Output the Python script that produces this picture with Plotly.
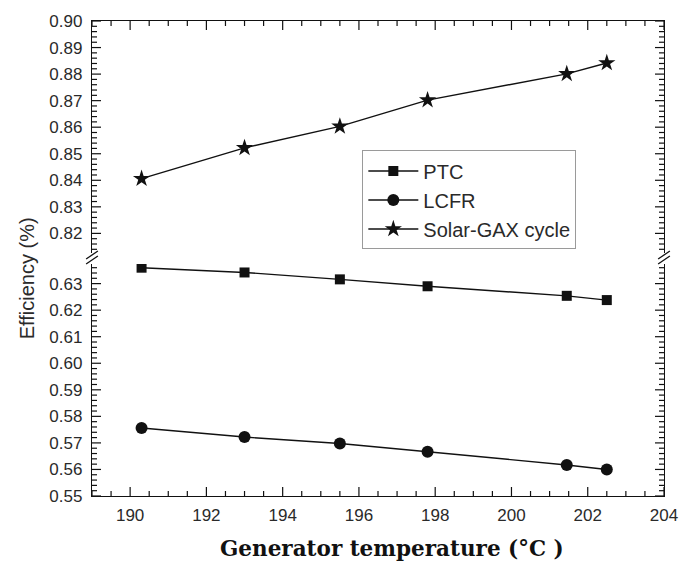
import numpy as np
import plotly.graph_objects as go

# Generator temperature (°C)
temp_ptc = [190.3, 193.0, 195.5, 197.8, 201.45, 202.5]
temp_lcfr = [190.3, 193.0, 195.5, 197.8, 201.45, 202.5]
temp_gax = [190.3, 193.0, 195.5, 197.8, 201.45, 202.5]

# Efficiency values
eff_ptc = [0.6360, 0.6342, 0.6316, 0.6290, 0.6254, 0.6238]
eff_lcfr = [0.5756, 0.5722, 0.5698, 0.5667, 0.5617, 0.5600]
eff_gax = [0.8406, 0.8522, 0.8603, 0.8702, 0.8801, 0.8842]

W, H = 690, 569
ML, MR, MT, MB = 92, 14, 19, 73
PW, PH = W - ML - MR, H - MT - MB

LOW_TOP_PX = 263   # pixel row of lower panel top
UP_BOT_PX = 252    # pixel row of upper panel bottom

def py(p):
    return (H - MB - p) / PH

def px(p):
    return (p - ML) / PW

INK = "#111111"
TXT = "#2a2a2a"
SANS = "Liberation Sans, Arial, sans-serif"
tick_font = dict(family=SANS, size=17, color=TXT)

x_range = [189, 204]
y_low = [0.55, 0.55 + (H - MB - LOW_TOP_PX) / 2666.0]
y_up = [0.90 - (UP_BOT_PX - MT) / 2666.0, 0.90]

fig = go.Figure()

line_style = dict(color=INK, width=1.4)
fig.add_trace(go.Scatter(x=temp_ptc, y=eff_ptc, name="PTC", mode="lines+markers",
                         line=line_style, marker=dict(symbol="square", size=10, color=INK),
                         xaxis="x", yaxis="y"))
fig.add_trace(go.Scatter(x=temp_lcfr, y=eff_lcfr, name="LCFR", mode="lines+markers",
                         line=line_style, marker=dict(symbol="circle", size=12, color=INK),
                         xaxis="x", yaxis="y"))
fig.add_trace(go.Scatter(x=temp_gax, y=eff_gax, name="Solar-GAX cycle", mode="lines+markers",
                         line=line_style, marker=dict(symbol="star", size=13, color=INK),
                         xaxis="x2", yaxis="y2"))

axis_line = dict(showline=True, linecolor=INK, linewidth=1.4, ticks="",
                 showgrid=False, zeroline=False)

fig.update_layout(
    width=W, height=H,
    margin=dict(l=ML, r=MR, t=MT, b=MB),
    paper_bgcolor="white", plot_bgcolor="white",
    showlegend=True,
    xaxis=dict(range=x_range, domain=[0, 1], anchor="y", dtick=2,
               tickfont=tick_font, ticklabelstandoff=3, ticklabeloverflow="allow", **axis_line),
    xaxis2=dict(range=x_range, domain=[0, 1], anchor="y2", side="top", dtick=2,
                showticklabels=False, **axis_line),
    yaxis=dict(range=y_low, domain=[0, py(LOW_TOP_PX)], anchor="x", mirror=True,
               dtick=0.01, tickformat=".2f", tickfont=tick_font, ticklabelstandoff=5, **axis_line),
    yaxis2=dict(range=y_up, domain=[py(UP_BOT_PX), 1], anchor="x2", mirror=True,
                dtick=0.01, tickformat=".2f", tickfont=tick_font, ticklabelstandoff=5, **axis_line),
    legend=dict(x=px(368), y=py(149), xanchor="left", yanchor="top",
                bgcolor="white", bordercolor="#9a9a9a", borderwidth=1,
                font=dict(family=SANS, size=20, color=TXT),
                tracegroupgap=0, itemwidth=50),
)

shapes = []
tick_line = dict(color=INK, width=1.2)

# Inward tick marks on the x axes (bottom of lower panel, top of upper panel)
for v in np.round(np.arange(x_range[0], x_range[1] + 1e-9, 0.5), 3):
    ln = 9 if abs(v % 2) < 1e-9 else 5
    shapes.append(dict(type="line", xref="x", yref="y domain", x0=v, x1=v,
                       ysizemode="pixel", yanchor=0, y0=0, y1=ln, line=tick_line))
    shapes.append(dict(type="line", xref="x2", yref="y2 domain", x0=v, x1=v,
                       ysizemode="pixel", yanchor=1, y0=0, y1=-ln, line=tick_line))

# Inward tick marks on both vertical sides of each panel
def y_ticks(yref, xref, lo, hi):
    start = np.ceil(lo / 0.002 - 1e-6) * 0.002
    for v in np.round(np.arange(start, hi + 1e-9, 0.002), 4):
        ln = 9 if abs(round(v * 100) - v * 100) < 1e-6 else 5
        for side, sign in ((0, 1), (1, -1)):
            shapes.append(dict(type="line", xref=xref + " domain", yref=yref, y0=v, y1=v,
                               xsizemode="pixel", xanchor=side, x0=0, x1=sign * ln,
                               line=tick_line))

y_ticks("y", "x", *y_low)
y_ticks("y2", "x2", *y_up)

# Axis break marks on both vertical axes
for xc in (ML, W - MR):
    for dy in (0, 5):
        shapes.append(dict(type="line", xref="paper", yref="paper",
                           x0=px(xc - 6), y0=py(263 - dy), x1=px(xc + 6), y1=py(255 - dy),
                           line=dict(color=INK, width=1.3)))
fig.update_layout(shapes=shapes)

fig.add_annotation(text="Efficiency (%)", xref="paper", yref="paper",
                   x=px(26), y=py(277), xanchor="center", yanchor="middle",
                   textangle=-90, showarrow=False,
                   font=dict(family=SANS, size=20, color=TXT))
fig.add_annotation(text="<b>Generator temperature (°C )</b>", xref="paper", yref="paper",
                   x=px(398), y=py(549), xanchor="center", yanchor="middle", showarrow=False,
                   font=dict(family="DejaVu Serif, serif", size=21.5, color="#111111"))

fig.write_html("out.html")
